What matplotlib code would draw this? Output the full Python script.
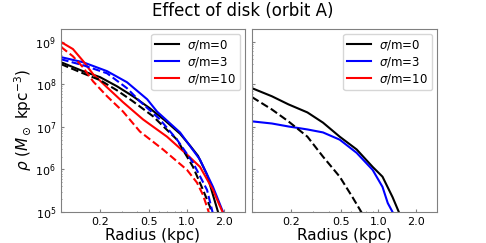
import matplotlib
matplotlib.use("Agg")
import matplotlib.pyplot as plt
import numpy as np
from matplotlib.ticker import FixedLocator, FixedFormatter, NullFormatter

# ---- left panel: radius (kpc) and log10 density ----
r_k0 = [0.097, 0.146, 0.2, 0.274, 0.369, 0.506, 0.669, 0.884, 1.064, 1.234, 1.459, 1.63, 1.79, 1.9]
k0_solid = [8.52, 8.31, 8.17, 7.955, 7.72, 7.435, 7.15, 6.84, 6.56, 6.32, 5.875, 5.40, 5.0, 4.7]
r_k0d = [0.097, 0.146, 0.2, 0.274, 0.369, 0.535, 0.836, 1.125, 1.354, 1.543, 1.60]
k0_dash = [8.475, 8.26, 8.10, 7.86, 7.60, 7.25, 6.70, 6.06, 5.52, 5.12, 4.95]

r_b3 = [0.097, 0.146, 0.228, 0.33, 0.48, 0.577, 0.884, 1.281, 1.63, 1.963, 2.1]
b3_solid = [8.64, 8.52, 8.31, 8.05, 7.65, 7.36, 6.87, 6.23, 5.59, 5.0, 4.8]
r_b3d = [0.097, 0.146, 0.228, 0.33, 0.42, 0.609, 0.836, 1.125, 1.459, 1.60, 1.63]
b3_dash = [8.59, 8.45, 8.26, 7.91, 7.60, 7.175, 6.70, 6.16, 5.52, 5.05, 4.95]

r_r10 = [0.097, 0.121, 0.146, 0.176, 0.228, 0.307, 0.445, 0.694, 1.006, 1.281, 1.63, 1.82, 1.963]
r10_solid = [8.995, 8.83, 8.55, 8.24, 7.93, 7.58, 7.175, 6.77, 6.35, 6.06, 5.52, 5.19, 4.98]
r_r10d = [0.097, 0.121, 0.146, 0.176, 0.228, 0.307, 0.42, 0.644, 1.006, 1.211, 1.354, 1.486, 1.543]
r10_dash = [8.88, 8.66, 8.40, 8.07, 7.72, 7.36, 6.89, 6.47, 5.99, 5.69, 5.40, 5.05, 4.905]

# ---- right panel ----
r_rk = [0.097, 0.14, 0.19, 0.27, 0.36, 0.49, 0.67, 0.9, 1.08, 1.3, 1.46, 1.6]
rk_solid = [7.91, 7.72, 7.53, 7.34, 7.10, 6.77, 6.47, 6.06, 5.83, 5.35, 5.0, 4.6]
r_rkd = [0.097, 0.14, 0.19, 0.27, 0.36, 0.49, 0.62, 0.73, 0.85]
rk_dash = [7.70, 7.41, 7.13, 6.77, 6.30, 5.83, 5.35, 5.0, 4.6]
r_rb = [0.097, 0.14, 0.19, 0.27, 0.36, 0.49, 0.67, 0.9, 1.08, 1.19, 1.3, 1.4]
rb_solid = [7.13, 7.08, 7.01, 6.94, 6.87, 6.70, 6.39, 5.99, 5.59, 5.21, 5.0, 4.7]

xticks = [0.2, 0.5, 1.0, 2.0]
xticklabels = ["0.2", "0.5", "1.0", "2.0"]
labels = [r"$\sigma$/m=0", r"$\sigma$/m=3", r"$\sigma$/m=10"]


def dens(v):
    return 10 ** np.array(v)


fig = plt.figure(figsize=(4.86, 2.43), dpi=100)
ax1 = fig.add_axes([0.1255, 0.1276, 0.3785, 0.7531])
ax2 = fig.add_axes([0.5185, 0.1276, 0.3805, 0.7531], sharey=ax1)

lw = 1.5
ax1.plot(r_k0, dens(k0_solid), color="k", lw=lw, label=labels[0])
ax1.plot(r_b3, dens(b3_solid), color="b", lw=lw, label=labels[1])
ax1.plot(r_r10, dens(r10_solid), color="r", lw=lw, label=labels[2])
ax1.plot(r_k0d, dens(k0_dash), color="k", lw=lw, ls="--")
ax1.plot(r_b3d, dens(b3_dash), color="b", lw=lw, ls="--")
ax1.plot(r_r10d, dens(r10_dash), color="r", lw=lw, ls="--")

ax2.plot(r_rk, dens(rk_solid), color="k", lw=lw, label=labels[0])
ax2.plot(r_rb, dens(rb_solid), color="b", lw=lw, label=labels[1])
ax2.plot([], [], color="r", lw=lw, label=labels[2])
ax2.plot(r_rkd, dens(rk_dash), color="k", lw=lw, ls="--")

for ax in (ax1, ax2):
    ax.set_xscale("log")
    ax.set_yscale("log")
    ax.set_xlim(0.097, 2.95)
    ax.set_ylim(1e5, 2e9)
    ax.xaxis.set_major_locator(FixedLocator(xticks))
    ax.xaxis.set_major_formatter(FixedFormatter(xticklabels))
    ax.xaxis.set_minor_formatter(NullFormatter())
    ax.tick_params(which="both", direction="in", color="0.5", labelsize=8)
    ax.tick_params(which="major", length=2)
    ax.tick_params(which="minor", length=1)
    for s in ax.spines.values():
        s.set_color("0.5")
    ax.set_xlabel("Radius (kpc)", fontsize=11, labelpad=1)
    ax.legend(loc="upper right", fontsize=8.5, handlelength=2.0,
              borderpad=0.35, labelspacing=0.25, handletextpad=0.7,
              borderaxespad=0.4)

plt.setp(ax2.get_yticklabels(), visible=False)
ax1.set_ylabel(r"$\rho$ ($M_\odot$ kpc$^{-3}$)", fontsize=11, labelpad=1)
fig.suptitle("Effect of disk (orbit A)", fontsize=12, y=0.99)

fig.savefig("out.png", dpi=100)
